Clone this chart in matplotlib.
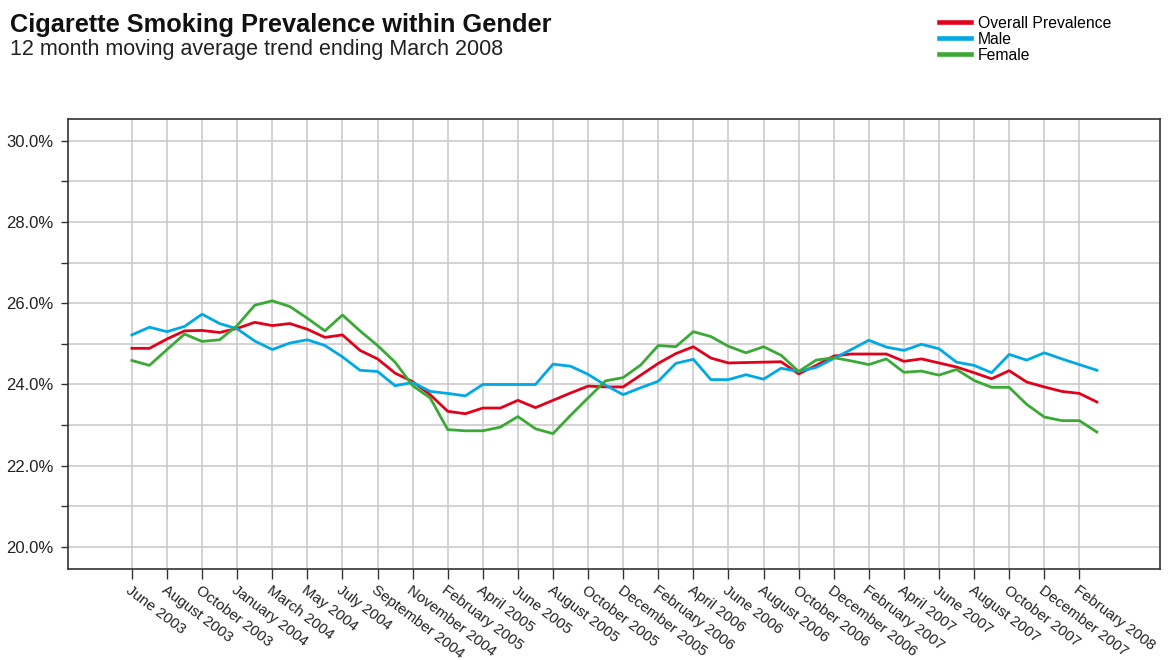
import matplotlib
matplotlib.use("Agg")
import matplotlib.pyplot as plt
from matplotlib.ticker import MultipleLocator, PercentFormatter

plt.rcParams['font.family'] = ['Liberation Sans', 'DejaVu Sans']

# one label every second month
tick_labels = [
    'June 2003', 'August 2003', 'October 2003', 'January 2004', 'March 2004',
    'May 2004', 'July 2004', 'September 2004', 'November 2004', 'February 2005',
    'April 2005', 'June 2005', 'August 2005', 'October 2005', 'December 2005',
    'February 2006', 'April 2006', 'June 2006', 'August 2006', 'October 2006',
    'December 2006', 'February 2007', 'April 2007', 'June 2007', 'August 2007',
    'October 2007', 'December 2007', 'February 2008',
]

overall = [
    24.89, 24.89, 25.12, 25.32, 25.33, 25.28, 25.38, 25.53, 25.45, 25.50,
    25.36, 25.16, 25.22, 24.84, 24.63, 24.28, 24.07, 23.75, 23.34, 23.28,
    23.42, 23.42, 23.61, 23.43, 23.61, 23.79, 23.96, 23.94, 23.94, 24.23,
    24.52, 24.76, 24.93, 24.65, 24.53, 24.54, 24.55, 24.56, 24.26, 24.47,
    24.70, 24.75, 24.75, 24.75, 24.57, 24.63, 24.53, 24.43, 24.29, 24.14,
    24.34, 24.06, 23.94, 23.83, 23.78, 23.57,
]
male = [
    25.22, 25.41, 25.30, 25.43, 25.73, 25.50, 25.37, 25.07, 24.86, 25.02,
    25.10, 24.96, 24.68, 24.35, 24.32, 23.97, 24.05, 23.83, 23.78, 23.72,
    24.00, 24.00, 24.00, 24.00, 24.50, 24.45, 24.25, 23.98, 23.75, 23.92,
    24.08, 24.52, 24.62, 24.12, 24.12, 24.24, 24.13, 24.40, 24.32, 24.42,
    24.64, 24.86, 25.09, 24.92, 24.84, 24.99, 24.88, 24.55, 24.47, 24.29,
    24.74, 24.60, 24.78, 24.63, 24.49, 24.35,
]
female = [
    24.59, 24.47, 24.86, 25.24, 25.06, 25.10, 25.45, 25.95, 26.06, 25.92,
    25.63, 25.32, 25.71, 25.32, 24.96, 24.55, 23.97, 23.67, 22.89, 22.86,
    22.86, 22.95, 23.21, 22.91, 22.79, 23.24, 23.67, 24.09, 24.17, 24.48,
    24.96, 24.93, 25.30, 25.18, 24.94, 24.78, 24.93, 24.72, 24.32, 24.60,
    24.66, 24.58, 24.49, 24.63, 24.30, 24.33, 24.23, 24.37, 24.10, 23.93,
    23.93, 23.51, 23.20, 23.11, 23.11, 22.83,
]

RED = '#e3001b'
BLUE = '#00a8e6'
GREEN = '#3aa935'
DARK = '#333333'

x = list(range(len(overall)))

fig = plt.figure(figsize=(11.7, 6.6), dpi=100)
ax = fig.add_axes([0.0577, 0.138, 0.9338, 0.682])

ax.plot(x, overall, color=RED, lw=2.0, label='Overall Prevalence', zorder=3)
ax.plot(x, male, color=BLUE, lw=2.0, label='Male', zorder=3)
ax.plot(x, female, color=GREEN, lw=2.0, label='Female', zorder=3)

ax.set_xlim(-3.67, 58.6)
ax.set_ylim(19.46, 30.54)

ax.set_xticks(x[::2])
ax.set_xticklabels(tick_labels, rotation=-37, ha='left', va='top',
                   rotation_mode='anchor', fontsize=10.8, color='#222222')
ax.yaxis.set_major_locator(MultipleLocator(2))
ax.yaxis.set_minor_locator(MultipleLocator(1))
ax.yaxis.set_major_formatter(PercentFormatter(xmax=100, decimals=1))

ax.tick_params(axis='y', which='both', length=5, width=1, color=DARK,
               labelsize=12, labelcolor='#222222', pad=5)
ax.tick_params(axis='x', length=7, width=1, color=DARK, pad=3)

ax.grid(True, axis='x', color='#cccccc', lw=1.2)
ax.grid(True, axis='y', which='both', color='#cccccc', lw=1.2)
ax.set_axisbelow(True)

for side in ax.spines.values():
    side.set_color(DARK)
    side.set_linewidth(1.2)

fig.text(0.0085, 0.952, 'Cigarette Smoking Prevalence within Gender',
         fontsize=18.3, fontweight='bold', color='#111111')
fig.text(0.0085, 0.917, '12 month moving average trend ending March 2008',
         fontsize=15.5, color='#222222')

leg = fig.legend(loc='upper left', bbox_to_anchor=(0.796, 0.988),
                 frameon=False, fontsize=11.3, handlelength=2.0,
                 handletextpad=0.45, labelspacing=0.07, borderpad=0)
for line in leg.get_lines():
    line.set_linewidth(3.3)

fig.savefig('out.png', dpi=100)
